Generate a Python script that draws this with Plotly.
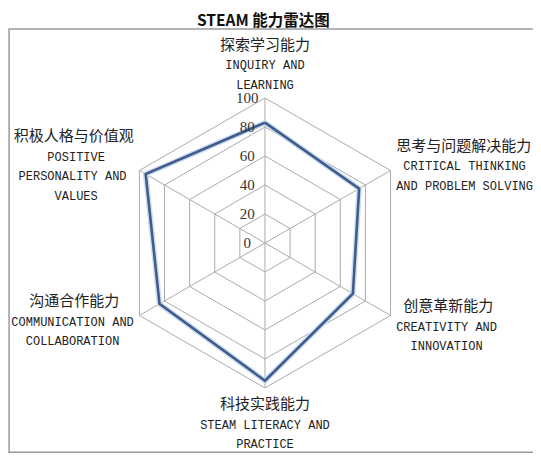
import plotly.graph_objects as go

categories_cn = ["探索学习能力", "思考与问题解决能力", "创意革新能力",
                 "科技实践能力", "沟通合作能力", "积极人格与价值观"]
categories_en = [["INQUIRY AND", "LEARNING"],
                 ["CRITICAL THINKING", "AND PROBLEM SOLVING"],
                 ["CREATIVITY AND", "INNOVATION"],
                 ["STEAM LITERACY AND", "PRACTICE"],
                 ["COMMUNICATION AND", "COLLABORATION"],
                 ["POSITIVE", "PERSONALITY AND", "VALUES"]]
scores = [83, 75, 70, 95, 84, 95]
radial_ticks = [0, 20, 40, 60, 80, 100]

# side of the chart for each label, and blank lines used to centre it on its vertex
label_side = ["mid", "right", "right", "mid", "left", "left"]
blank_above = [0, 2, 0, 0, 0, 3]
blank_below = [0, 0, 2, 0, 3, 0]

CJK_W = 15 / 7.2  # one CJK glyph (15px) in units of a 12px mono character
NB = "\u00a0"
CJK_SPAN = "<span style='font-family:Noto Sans CJK SC;font-size:15px'>{}</span>"
EN_SPAN = "<span style='font-size:12px'>{}</span>"


def make_label(cn, en_lines, side, above, below):
    # tick labels can't be centre aligned, so pad with nbsp in the mono font
    widths = [len(cn) * CJK_W] + [len(s) for s in en_lines]
    full = max(widths)
    pads = [int(round((full - w) / 2)) if side != "mid" else 0 for w in widths]
    out = [NB] * above
    for i, (txt, p) in enumerate(zip([cn] + en_lines, pads)):
        pad = EN_SPAN.format(NB * p) if p else ""
        body = CJK_SPAN.format(txt) if i == 0 else EN_SPAN.format(txt)
        out.append(pad + body if side == "right" else body + pad)
    out += [NB] * below
    return "<br>".join(out)


labels = [make_label(*a) for a in zip(categories_cn, categories_en, label_side,
                                      blank_above, blank_below)]
radial_text = [f"{v}" + NB * (4 - len(str(v))) for v in radial_ticks]

fig = go.Figure()
# faint light-blue halo under the main line
fig.add_trace(go.Scatterpolar(
    r=scores + scores[:1],
    theta=categories_cn + categories_cn[:1],
    mode="lines",
    line=dict(color="#CFDDF0", width=5.5),
    showlegend=False,
    hoverinfo="skip",
))
fig.add_trace(go.Scatterpolar(
    r=scores + scores[:1],
    theta=categories_cn + categories_cn[:1],
    mode="lines",
    line=dict(color="#3E5C8C", width=2.6),
    showlegend=False,
))

fig.update_layout(
    width=541,
    height=457,
    paper_bgcolor="white",
    margin=dict(l=0, r=0, t=0, b=0),
    title=dict(
        text="<b>STEAM 能力雷达图</b>",
        x=0.472, xanchor="center",
        y=0.973, yanchor="middle",
        font=dict(family="Noto Sans CJK SC", size=15.5, color="#111"),
    ),
    polar=dict(
        domain=dict(x=[0.207, 0.743], y=[0.1685, 0.8031]),
        gridshape="linear",
        bgcolor="white",
        radialaxis=dict(
            range=[0, 100],
            tickvals=radial_ticks,
            ticktext=radial_text,
            angle=90,
            tickangle=90,
            side="counterclockwise",
            showline=False,
            gridcolor="#ABABAB",
            gridwidth=1,
            ticks="",
            tickfont=dict(family="Liberation Serif", size=15, color="#333"),
        ),
        angularaxis=dict(
            direction="clockwise",
            rotation=90,
            tickvals=categories_cn,
            ticktext=labels,
            gridcolor="#ABABAB",
            linecolor="#ABABAB",
            linewidth=1,
            ticks="outside",
            ticklen=3,
            tickcolor="rgba(0,0,0,0)",
            tickfont=dict(family="Liberation Mono", size=15, color="#222"),
        ),
    ),
    shapes=[dict(
        type="rect", xref="paper", yref="paper",
        x0=0.002, x1=0.98, y0=0.028, y1=0.954,
        line=dict(color="#9A9A9A", width=1.5),
    )],
)

fig.write_html("out.html")
